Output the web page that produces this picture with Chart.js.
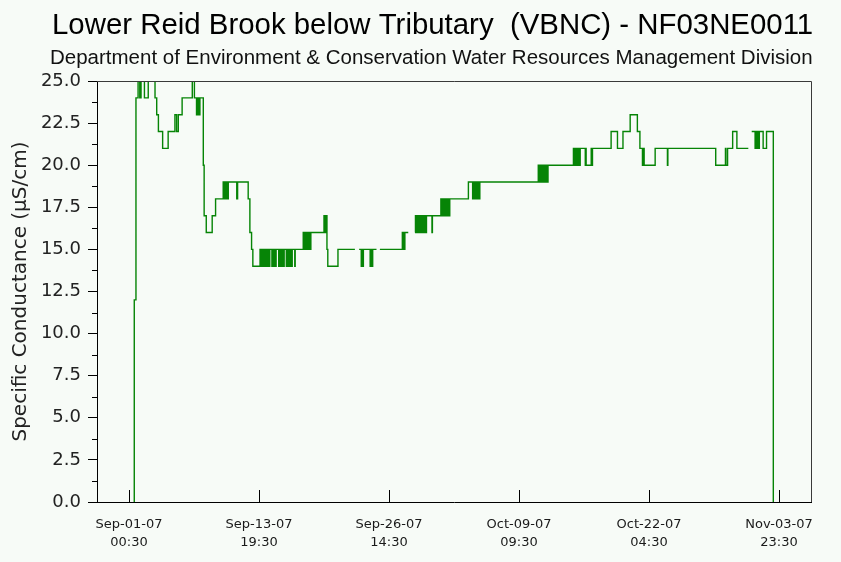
<!DOCTYPE html>
<html><head><meta charset="utf-8">
<script src="https://cdn.jsdelivr.net/npm/chart.js@4.4.0/dist/chart.umd.min.js"></script>
<style>html,body{margin:0;padding:0;background:#f7fbf7;overflow:hidden}</style>
</head><body>
<canvas id="c" width="841" height="562" style="width:841px;height:562px;display:block"></canvas>
<script>
// Hours since 2007-09-01 00:00 at which the reading changes, and the new value (µS/cm)
const hours = [
  12,13,17,22,26,29,37,46,62,66,70,80,93,109,113,117,126,150,155,160,163,165,168,176,178,183,197,205,
  223,224,226,227,229,230,232,233,235,255,257,282,286,290,293,
  310,312,314,316,318,319,321,323,325,327,329,331,333,338,340,342,344,346,348,354,356,358,360,362,363,365,367,372,374,376,378,380,382,384,386,392,393,
  412,413,415,416,418,420,422,424,426,428,430,461,462,464,465,467,468,470,494,534,535,544,549,551,552,554,570,572,573,576,585,586,593,
  646,647,649,650,652,660,661,676,677,679,680,682,684,686,687,689,691,693,695,697,699,701,703,716,717,
  737,738,740,741,743,745,747,748,750,752,754,756,758,802,812,814,815,817,819,821,823,825,826,829,
  967,968,970,971,973,975,977,979,981,983,985,986,987,989,990,
  1050,1051,1053,1055,1057,1059,1061,1063,1066,1078,1079,1080,1092,1093,1095,
  1139,1154,1167,1184,1201,1207,1213,1215,1217,1243,1272,1273,
  1386,1409,1410,1414,1426,1436,1463,1464,1471,1479,1480,1482,1483,1485,1486,1488,1489,1498,1506,1522
];
const conductance = [
  0,12,24,26,24,26,24,26,24,23,22,21,22,23,22,23,24,26,24,23,24,23,24,20,17,16,17,18,
  19,18,19,18,19,18,19,18,19,18,19,18,16,15,14,
  15,14,15,14,15,14,15,14,15,14,15,14,15,14,15,14,15,14,15,14,15,14,15,14,15,14,15,14,15,14,15,14,15,14,15,14,15,
  16,15,16,15,16,15,16,15,16,15,16,17,16,17,16,17,15,14,15,15,null,15,14,15,14,15,14,15,14,15,15,null,15,
  16,15,16,15,16,16,null,16,17,16,17,16,17,16,17,16,17,16,17,16,17,16,17,16,17,
  18,17,18,17,18,17,18,17,18,17,18,17,18,19,18,19,18,19,18,19,18,19,18,19,
  20,19,20,19,20,19,20,19,20,19,20,19,20,19,20,
  21,20,21,20,21,20,21,20,21,20,21,20,21,20,21,
  22,21,22,23,22,21,20,21,20,21,20,21,
  20,21,20,21,22,21,21,null,22,21,22,21,22,21,22,21,22,21,22,0
];
const tickHours = [0.5, 307.5, 614.5, 921.5, 1228.5, 1535.5];
const tickDates = ["Sep-01-07","Sep-13-07","Sep-26-07","Oct-09-07","Oct-22-07","Nov-03-07"];
const tickTimes = ["00:30","19:30","14:30","09:30","04:30","23:30"];
const titleText = "Lower Reid Brook below Tributary  (VBNC) - NF03NE0011";
const subtitleText = "Department of Environment & Conservation Water Resources Management Division";
const yAxisTitle = "Specific Conductance (\u00B5S/cm)";

const BG = '#f7fbf7';
const points = hours.map((h, i) => ({x: h, y: conductance[i]}));

const decor = {
  id: 'decor',
  beforeDraw(chart) {
    const ctx = chart.ctx;
    ctx.save();
    ctx.fillStyle = BG;
    ctx.fillRect(0, 0, chart.width, chart.height);
    ctx.restore();
  },
  afterDraw(chart) {
    const ctx = chart.ctx, a = chart.chartArea;
    const xs = chart.scales.x, ys = chart.scales.y;
    ctx.save();
    // top/right frame
    ctx.strokeStyle = '#3a3a3a'; ctx.lineWidth = 1;
    ctx.beginPath();
    ctx.moveTo(Math.round(a.left), Math.round(a.top) + 0.5);
    ctx.lineTo(Math.round(a.right) + 0.5, Math.round(a.top) + 0.5);
    ctx.lineTo(Math.round(a.right) + 0.5, Math.round(a.bottom));
    ctx.stroke();
    // x tick marks pointing inward
    ctx.strokeStyle = '#000';
    xs.ticks.forEach(t => {
      const px = Math.round(xs.getPixelForValue(t.value)) + 0.5;
      ctx.beginPath(); ctx.moveTo(px, a.bottom); ctx.lineTo(px, a.bottom - 12); ctx.stroke();
    });
    // minor y ticks
    ys.ticks.forEach((t, i) => {
      if (i === ys.ticks.length - 1) return;
      const v = t.value + 1.25;
      const py = Math.round(ys.getPixelForValue(v)) + 0.5;
      ctx.beginPath(); ctx.moveTo(a.left - 5, py); ctx.lineTo(a.left, py); ctx.stroke();
    });
    // titles
    ctx.fillStyle = '#000';
    ctx.textAlign = 'left'; ctx.textBaseline = 'alphabetic';
    ctx.font = '29.4px "Liberation Sans", Arial, sans-serif';
    ctx.fillText(titleText, 52, 34);
    ctx.fillStyle = '#111';
    ctx.font = '20.5px "Liberation Sans", Arial, sans-serif';
    ctx.fillText(subtitleText, 50, 64);
    ctx.restore();
  }
};

new Chart(document.getElementById('c'), {
  type: 'line',
  data: { datasets: [{
    data: points,
    stepped: 'before',
    borderColor: '#068406',
    borderWidth: 1.4,
    pointRadius: 0,
    tension: 0,
    fill: false,
    spanGaps: false,
    clip: 0
  }]},
  options: {
    responsive: false,
    animation: false,
    devicePixelRatio: 1,
    layout: { padding: { top: 81, right: 30, bottom: 0, left: 0 } },
    plugins: { legend: { display: false }, tooltip: { enabled: false }, title: { display: false } },
    scales: {
      x: {
        type: 'linear',
        min: -75, max: 1611,
        afterFit(s) { s.height = 60; },
        afterBuildTicks(s) { s.ticks = tickHours.map(v => ({value: v})); },
        grid: { display: false },
        border: { display: true, color: '#000', width: 1 },
        ticks: {
          autoSkip: false, maxRotation: 0, minRotation: 0, padding: 6,
          color: '#1a1a1a',
          font: { family: '"DejaVu Sans", sans-serif', size: 13, lineHeight: 1.385 },
          callback(v) { const i = tickHours.indexOf(v); return i < 0 ? '' : [tickDates[i], tickTimes[i]]; }
        }
      },
      y: {
        min: 0, max: 25,
        afterFit(s) { s.width = 97; },
        grid: { drawOnChartArea: false, drawTicks: true, tickLength: 9, color: '#000', tickColor: '#000' },
        border: { display: true, color: '#000', width: 1 },
        ticks: {
          stepSize: 2.5, padding: 7, color: '#222',
          font: { family: '"DejaVu Sans", sans-serif', size: 18 },
          callback(v) { return Number(v).toFixed(1); }
        },
        title: {
          display: true, text: yAxisTitle, color: '#222',
          font: { family: '"DejaVu Sans", sans-serif', size: 20, lineHeight: 1.2 },
          padding: { top: 9, bottom: 0 }
        }
      }
    }
  },
  plugins: [decor]
});
</script>
</body></html>
